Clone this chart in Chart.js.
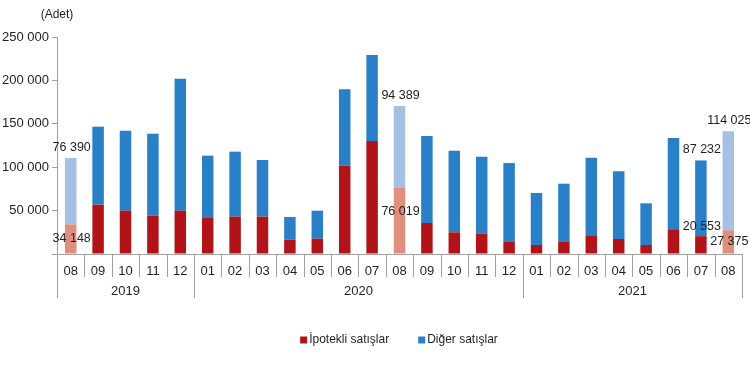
<!DOCTYPE html>
<html lang="tr">
<head>
  <meta charset="UTF-8" />
  <title>Konut satışları</title>
  <script src="https://cdn.jsdelivr.net/npm/chart.js"></script>
  <style>
    body {
      margin: 0;
      background: #ffffff;
    }
    .chart-box {
      width: 750px;
      height: 379px;
    }
  </style>
</head>
<body>
  <div class="chart-box">
    <canvas id="grafik"></canvas>
  </div>

  <script>
    // Aylar (2019-08 ... 2021-08)
    const months = ['08', '09', '10', '11', '12',
      '01', '02', '03', '04', '05', '06', '07', '08', '09', '10', '11', '12',
      '01', '02', '03', '04', '05', '06', '07', '08'];
    const yearLabels = ['2019', '2020', '2021'];
    const yearSpans = [5, 12, 8];

    const ipotekli = [34148, 56800, 49900, 44100, 49900,
      41500, 43000, 43000, 16500, 17600, 101700, 130200, 76019, 35700, 25000, 23400, 13800,
      10400, 13800, 20700, 17300, 10400, 28500, 20553, 27375];
    const diger = [76390, 89900, 92200, 94500, 152100,
      71800, 74900, 65300, 26100, 32300, 88000, 99100, 94389, 100200, 94000, 88700, 91000,
      59900, 67200, 90300, 78000, 48000, 105100, 87232, 114025];

    const yTicks = [0, 50000, 100000, 150000, 200000, 250000];

    // vurgulanan aylar (açık renk) ve etiketli çubuklar
    const highlighted = [0, 12, 24];
    const labelled = [0, 12, 23, 24];

    const FONT = "'Liberation Sans', Arial, sans-serif";
    const TEXT = '#1f1f1f';
    const AXIS = '#a0a0a0';

    function fmt(v) {
      return String(Math.round(v)).replace(/\B(?=(\d{3})+(?!\d))/g, ' ');
    }

    function barColor(dark, light) {
      return ctx => highlighted.includes(ctx.dataIndex) ? light : dark;
    }

    const ekler = {
      id: 'ekler',
      afterDraw(chart) {
        const ctx = chart.ctx;
        const x = chart.scales.x;
        const area = chart.chartArea;
        const half = (x.getPixelForValue(1) - x.getPixelForValue(0)) / 2;

        ctx.save();
        ctx.fillStyle = TEXT;
        ctx.font = '12px ' + FONT;
        ctx.textAlign = 'center';
        ctx.textBaseline = 'middle';
        ctx.fillText('(Adet)', area.left, 15);

        // ay ayırıcıları
        ctx.strokeStyle = AXIS;
        ctx.lineWidth = 1;
        ctx.beginPath();
        for (let i = 0; i <= months.length; i++) {
          const px = Math.round(x.getPixelForValue(0) - half + i * half * 2) + 0.5;
          ctx.moveTo(px, area.bottom);
          ctx.lineTo(px, area.bottom + 23);
        }
        // yıl ayırıcıları
        let start = 0;
        const bounds = [0];
        yearSpans.forEach(n => { start += n; bounds.push(start); });
        bounds.forEach(b => {
          const px = Math.round(x.getPixelForValue(0) - half + b * half * 2) + 0.5;
          ctx.moveTo(px, area.bottom);
          ctx.lineTo(px, area.bottom + 44);
        });
        ctx.stroke();

        ctx.font = '13px ' + FONT;
        yearLabels.forEach((yl, k) => {
          const a = x.getPixelForValue(bounds[k]) - half;
          const b = x.getPixelForValue(bounds[k + 1] - 1) + half;
          ctx.fillText(yl, (a + b) / 2, area.bottom + 37);
        });

        // veri etiketleri
        const redMeta = chart.getDatasetMeta(0);
        const blueMeta = chart.getDatasetMeta(1);
        ctx.font = '12.5px ' + FONT;
        labelled.forEach(i => {
          const red = redMeta.data[i];
          const blue = blueMeta.data[i];
          const cx = red.x + 1;
          ctx.fillText(fmt(diger[i]), cx, blue.y - 11);
          const h = red.base - red.y;
          const ly = h < 20 ? red.y - 10 : Math.min((red.y + red.base) / 2, red.y + 24);
          ctx.fillText(fmt(ipotekli[i]), cx, ly);
        });

        // lejant
        ctx.font = '12px ' + FONT;
        const items = chart.data.datasets.map(d => ({ text: d.label, color: d.legendColor }));
        const widths = items.map(it => ctx.measureText(it.text).width);
        const gap = 28;
        const total = widths.reduce((s, w) => s + w + 10, 0) + gap;
        let lx = (area.left + area.right) / 2 - total / 2;
        const ly = 340;
        ctx.textAlign = 'left';
        items.forEach((it, k) => {
          ctx.fillStyle = it.color;
          ctx.fillRect(lx, ly - 3.5, 7, 7);
          ctx.fillStyle = TEXT;
          ctx.fillText(it.text, lx + 9, ly);
          lx += 10 + widths[k] + gap;
        });
        ctx.restore();
      }
    };

    new Chart(document.getElementById('grafik'), {
      type: 'bar',
      data: {
        labels: months,
        datasets: [
          {
            label: 'İpotekli satışlar',
            data: ipotekli,
            backgroundColor: barColor('#b11418', '#df8f7c'),
            legendColor: '#b11418'
          },
          {
            label: 'Diğer satışlar',
            data: diger,
            backgroundColor: barColor('#2a80c6', '#a5c0e3'),
            legendColor: '#2a80c6'
          }
        ]
      },
      options: {
        responsive: true,
        maintainAspectRatio: false,
        animation: false,
        layout: { padding: { top: 37, right: 8, bottom: 55, left: 0 } },
        datasets: {
          bar: { categoryPercentage: 1, barPercentage: 0.42 }
        },
        plugins: {
          legend: { display: false },
          tooltip: { enabled: false }
        },
        scales: {
          x: {
            stacked: true,
            afterFit: s => { s.height = 70; },
            grid: { display: false },
            border: { display: true, color: AXIS },
            ticks: {
              color: TEXT,
              font: { family: FONT, size: 13 },
              padding: 2,
              maxRotation: 0,
              autoSkip: false
            }
          },
          y: {
            stacked: true,
            min: 0,
            max: 250000,
            afterFit: s => { s.width = 57; },
            afterBuildTicks: s => { s.ticks = yTicks.map(v => ({ value: v })); },
            grid: { drawOnChartArea: false, tickLength: 5, color: AXIS },
            border: { display: true, color: AXIS },
            ticks: {
              color: TEXT,
              font: { family: FONT, size: 13 },
              padding: 3,
              callback: v => v === 0 ? '' : fmt(v)
            }
          }
        }
      },
      plugins: [ekler]
    });
  </script>
</body>
</html>
